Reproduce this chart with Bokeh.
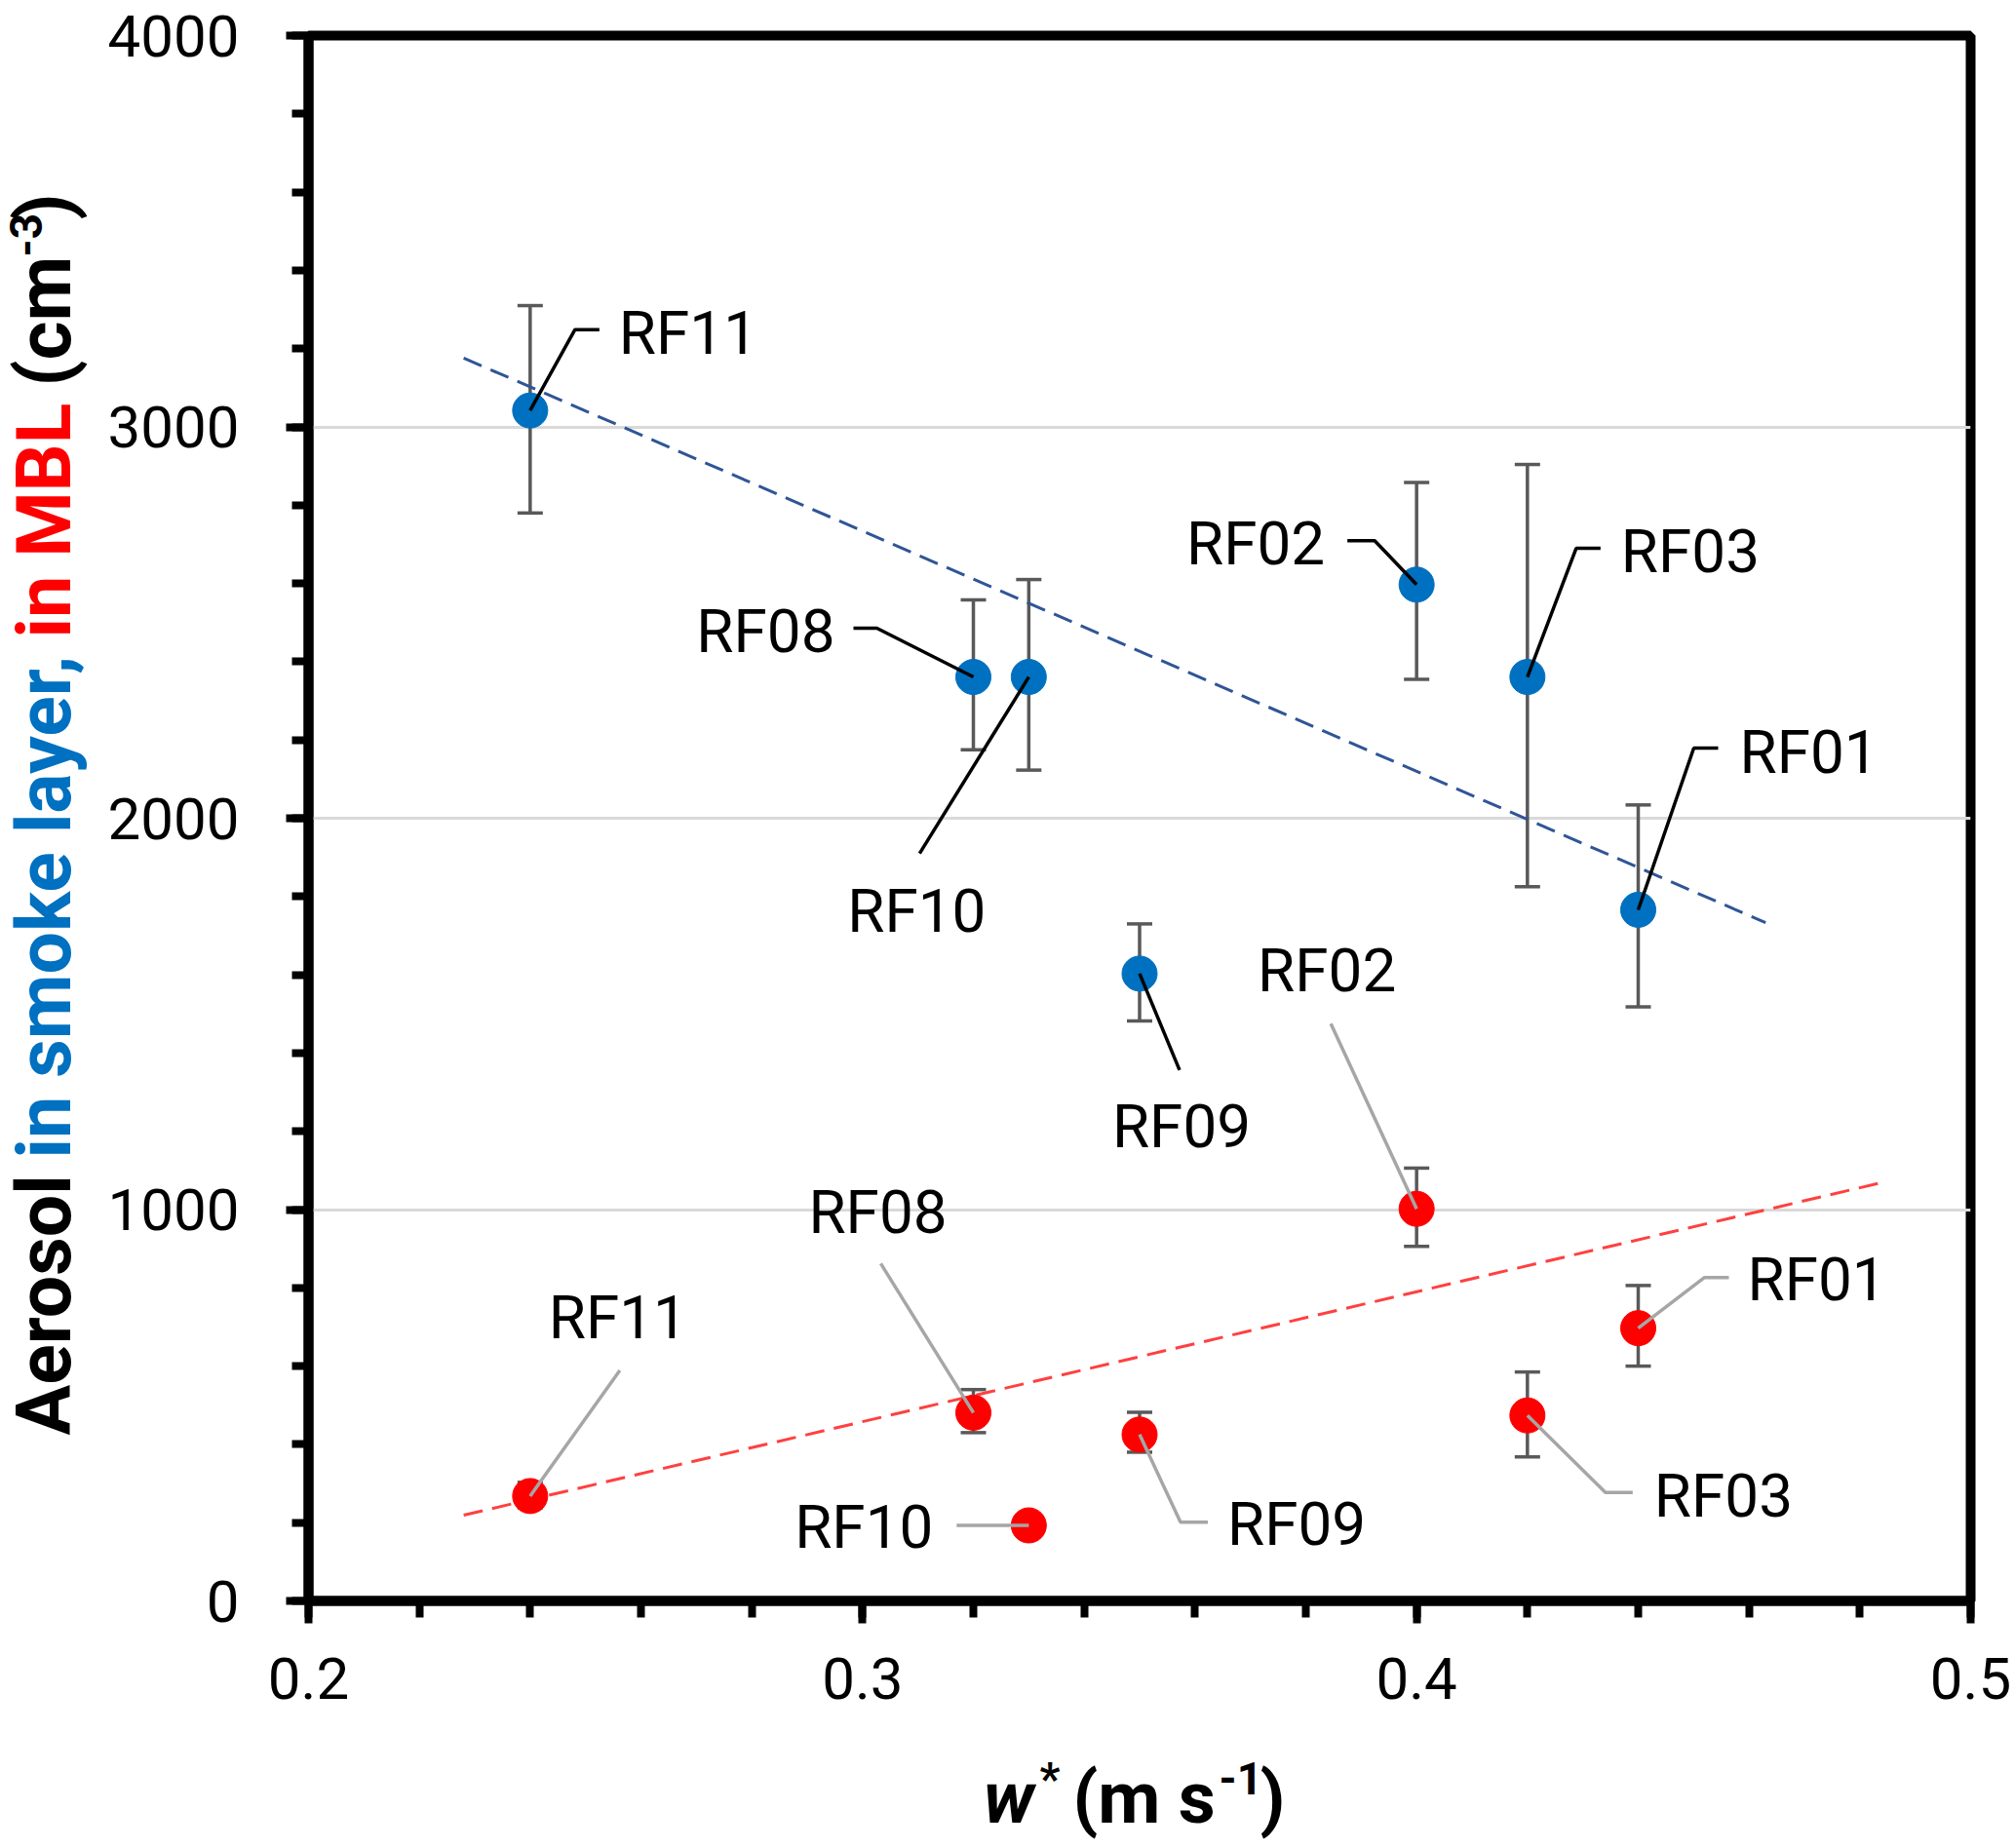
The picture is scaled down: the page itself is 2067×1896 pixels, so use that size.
import math

from bokeh.plotting import figure
from bokeh.layouts import column, row
from bokeh.models import ColumnDataSource, Range1d, SingleIntervalTicker, Whisker, TeeHead
from bokeh.core.properties import value, field
from bokeh.embed import file_html
from bokeh.resources import INLINE

# research flights and convective velocity scale w* (m s-1)
flights = ["RF01", "RF02", "RF03", "RF08", "RF09", "RF10", "RF11"]
w_star = [0.44, 0.40, 0.42, 0.32, 0.35, 0.33, 0.24]

# aerosol in the smoke layer (cm-3) with error bar ends
smoke = [1766, 2597, 2361, 2361, 1603, 2361, 3042]
smoke_hi = [2034, 2858, 2904, 2558, 1730, 2610, 3310]
smoke_lo = [1518, 2355, 1825, 2175, 1482, 2123, 2780]

# aerosol in the MBL (cm-3) with error bar ends
mbl = [697, 1002, 474, 481, 425, 193, 268]
mbl_hi = [806, 1106, 585, 540, 482, 213, 303]
mbl_lo = [600, 906, 368, 430, 380, 173, 238]

# dashed fit lines (end points)
smoke_fit_x = [0.228, 0.463]
smoke_fit_y = [3176, 1733]
mbl_fit_x = [0.228, 0.484]
mbl_fit_y = [219, 1069]

BLUE = "#0070C0"
RED = "#FF0000"

FRAME_W, FRAME_H = 1705, 1606
TOP, BOTTOM = 36, 146
PX_X = FRAME_W / 0.3     # pixels per unit of w*
PX_Y = FRAME_H / 4000.0  # pixels per cm-3

# call-out layout: leader path offsets (px, y down), text offset, alignment
smoke_callouts = {
    "RF01": ([(0, 0), (57, -166), (82, -166)], (104, -162), "left"),
    "RF02": ([(0, 0), (-43, -45), (-71, -45)], (-94, -42), "right"),
    "RF03": ([(0, 0), (50, -132), (75, -132)], (96, -129), "left"),
    "RF08": ([(0, 0), (-99, -50), (-123, -50)], (-142, -47), "right"),
    "RF09": ([(0, 0), (41, 99)], (43, 157), "center"),
    "RF10": ([(0, 0), (-112, 181)], (-115, 240), "center"),
    "RF11": ([(0, 0), (46, -83), (71, -83)], (91, -80), "left"),
}
mbl_callouts = {
    "RF01": ([(0, 0), (68, -52), (93, -52)], (112, -50), "left"),
    "RF02": ([(0, 0), (-88, -190)], (-92, -245), "center"),
    "RF03": ([(0, 0), (80, 79), (108, 79)], (130, 82), "left"),
    "RF08": ([(0, 0), (-95, -153)], (-98, -206), "center"),
    "RF09": ([(0, 0), (42, 90), (70, 90)], (90, 92), "left"),
    "RF10": ([(0, 0), (-74, 0)], (-98, 1), "right"),
    "RF11": ([(0, 0), (92, -129)], (90, -183), "center"),
}


def callout_sources(xs, ys, layout):
    lines = dict(xs=[], ys=[])
    texts = dict(x=[], y=[], t=[], align=[])
    for name, x0, y0 in zip(flights, xs, ys):
        pts, (tx, ty), align = layout[name]
        lines["xs"].append([x0 + dx / PX_X for dx, _ in pts])
        lines["ys"].append([y0 - dy / PX_Y for _, dy in pts])
        texts["x"].append(x0 + tx / PX_X)
        texts["y"].append(y0 - ty / PX_Y)
        texts["t"].append(name)
        texts["align"].append(align)
    return ColumnDataSource(lines), ColumnDataSource(texts)


p = figure(width=1962, height=TOP + FRAME_H + BOTTOM, x_range=Range1d(0.2, 0.5), y_range=Range1d(0, 4000),
           toolbar_location=None, output_backend="svg",
           min_border_left=212, min_border_right=45, min_border_top=TOP, min_border_bottom=BOTTOM)
p.outline_line_color = "black"
p.outline_line_width = 10
p.background_fill_color = "white"
p.border_fill_color = "white"

p.xaxis.ticker = SingleIntervalTicker(interval=0.1, num_minor_ticks=5)
p.yaxis.ticker = SingleIntervalTicker(interval=1000, num_minor_ticks=5)
for ax in (p.xaxis[0], p.yaxis[0]):
    ax.axis_line_width = 10
    ax.axis_line_color = "black"
    ax.major_tick_out = 23
    ax.major_tick_in = 0
    ax.minor_tick_out = 17
    ax.minor_tick_in = 0
    ax.major_tick_line_width = 8
    ax.minor_tick_line_width = 8
    ax.major_tick_line_color = "black"
    ax.minor_tick_line_color = "black"
    ax.major_label_text_font = "Roboto"
    ax.major_label_text_font_size = "60px"
    ax.major_label_text_color = "black"
p.xaxis.major_label_standoff = 35
p.yaxis.major_label_standoff = 48

p.xgrid.visible = False
p.ygrid.grid_line_color = "#D9D9D9"
p.ygrid.grid_line_width = 3

# error bars
for lo, hi in ((smoke_lo, smoke_hi), (mbl_lo, mbl_hi)):
    src = ColumnDataSource(dict(x=w_star, lo=lo, hi=hi))
    p.add_layout(Whisker(base="x", upper="hi", lower="lo", source=src,
                         line_color="#595959", line_width=3.5,
                         upper_head=TeeHead(size=26, line_color="#595959", line_width=3.5),
                         lower_head=TeeHead(size=26, line_color="#595959", line_width=3.5)))

# fit lines
p.line(smoke_fit_x, smoke_fit_y, line_color="#2F5597", line_width=3, line_dash="20 10")
p.line(mbl_fit_x, mbl_fit_y, line_color="#FF4040", line_width=3, line_dash="20 10")

# points
p.scatter(w_star, smoke, size=36, fill_color=BLUE, line_color=BLUE)
p.scatter(w_star, mbl, size=36, fill_color=RED, line_color=RED)

# call-outs
for ys, layout, lcolor in ((smoke, smoke_callouts, "black"), (mbl, mbl_callouts, "#A6A6A6")):
    lsrc, tsrc = callout_sources(w_star, ys, layout)
    p.multi_line(xs="xs", ys="ys", source=lsrc, line_color=lcolor, line_width=3.5)
    p.text(x="x", y="y", text="t", source=tsrc, text_align=field("align"),
           text_baseline=value("middle"), text_font=value("Roboto"),
           text_font_size="62px", text_color="black")


# axis titles: mixed styles, so each is built from pieces in its own strip
def strip(w, h, top=0, bottom=0):
    f = figure(width=w, height=h, x_range=Range1d(0, w), y_range=Range1d(0, h - top - bottom),
               toolbar_location=None, output_backend="svg",
               min_border_left=0, min_border_right=0, min_border_top=top, min_border_bottom=bottom,
               x_axis_location=None, y_axis_location=None)
    f.outline_line_color = None
    f.grid.visible = False
    f.background_fill_color = "white"
    f.border_fill_color = "white"
    return f


def piece(f, text, x, y, size="77px", color="black", style="bold", angle=0.0):
    f.text(x=[x], y=[y], text=[text], angle=angle, text_align=value("left"),
           text_baseline=value("middle"), text_font=value("Roboto"),
           text_font_style=value(style), text_font_size=size, text_color=color)


up = math.pi / 2
ytitle = strip(104, TOP + FRAME_H + BOTTOM, top=TOP, bottom=BOTTOM)
piece(ytitle, "Aerosol", 45, 170, angle=up)
piece(ytitle, "in smoke layer,", 45, 454, color=BLUE, angle=up)
piece(ytitle, "in MBL", 45, 988, color=RED, angle=up)
piece(ytitle, "(cm", 45, 1246, angle=up)
piece(ytitle, "-3", 26, 1379, size="46px", angle=up)
piece(ytitle, ")", 45, 1417, angle=up)

xtitle = strip(2066, 106)
piece(xtitle, "w", 1008, 50, size="74px", style="bold italic")
piece(xtitle, "*", 1066, 70, size="46px")
piece(xtitle, "(m s", 1100, 50, size="74px")
piece(xtitle, "-1", 1250, 70, size="46px")
piece(xtitle, ")", 1292, 50, size="74px")

page = column(row(ytitle, p), xtitle)

open("out.html", "w").write(file_html(page, INLINE))
